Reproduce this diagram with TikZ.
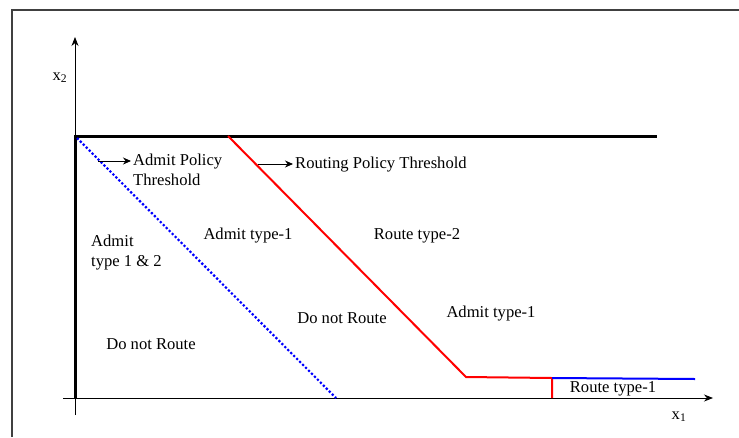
\documentclass[tikz,border=0pt]{standalone}
\usepackage{fontspec}
\setmainfont{Liberation Serif}
\usetikzlibrary{arrows.meta,positioning}

\begin{document}
\begin{tikzpicture}[x=1pt,y=-1pt,every node/.style={font=\fontsize{16.6}{20}\selectfont,inner sep=2pt,text height=12pt,text depth=4pt},
    regionlbl/.style={anchor=center},
    bound/.style={line width=3pt},
    policyarrow/.style={-{Stealth[length=8pt,width=7pt]},line width=0.9pt}]
    \useasboundingbox (0,0) rectangle (739,437);
    % frame
    \draw[black!75,line width=1.2pt] (12,437) |- (739,10);
    % axes
    \coordinate (o) at (75,398);
    \coordinate (xs) at (63,398);
    \coordinate (xe) at (713,398);
    \coordinate (ys) at (75,415);
    \coordinate (ye) at (75,37);
    \draw[-{Stealth[length=9pt,width=7pt]},line width=0.8pt] (xs)--(xe);
    \draw[-{Stealth[length=9pt,width=7pt]},line width=0.8pt] (ys)--(ye);
    \node (xtwo) at (60,76) {x\textsubscript{2}};
    \node (xone) at (679,415) {x\textsubscript{1}};
    % boundary of the state space
    \coordinate (tl) at (75,136);
    \coordinate (tr) at (657,136);
    \draw[bound] (o)--(tl)--(tr);
    % admit policy threshold
    \coordinate (ap1) at (77,138);
    \coordinate (ap2) at (336,398);
    \draw[blue,dotted,line width=2.2pt] (ap1)--(ap2);
    % routing policy threshold
    \coordinate (rp1) at (228,136);
    \coordinate (rp2) at (466,377);
    \coordinate (rp3) at (552,378);
    \coordinate (rp4) at (552,398);
    \coordinate (rp5) at (695,379);
    \draw[red,line width=2pt] (rp1)--(rp2)--(rp3)--(rp4);
    \draw[blue,line width=2pt] (rp3)--(rp5);
    % threshold labels
    \coordinate (aptail) at (98,161);
    \node[anchor=west] (apolicy) at (131,161) {Admit Policy};
    \node[anchor=north west] (athresh) at (apolicy.south west) {Threshold};
    \draw[policyarrow] (aptail)--(apolicy.west);
    \coordinate (rptail) at (258,164);
    \node[anchor=west] (rpolicy) at (293,164) {Routing Policy Threshold};
    \draw[policyarrow] (rptail)--(rpolicy.west);
    % regions
    \node[anchor=west] (admboth) at (89,242) {Admit};
    \node[anchor=north west] (admboth2) at (admboth.south west) {type 1 \& 2};
    \node[regionlbl] (noroute1) at (151,345) {Do not Route};
    \node[regionlbl] (admone1) at (248,235) {Admit type-1};
    \node[regionlbl] (noroute2) at (342,319) {Do not Route};
    \node[regionlbl] (routetwo) at (417,235) {Route type-2};
    \node[regionlbl] (admone2) at (491,313) {Admit type-1};
    \node[regionlbl] (routeone) at (613,388) {Route type-1};
\end{tikzpicture}
\end{document}
